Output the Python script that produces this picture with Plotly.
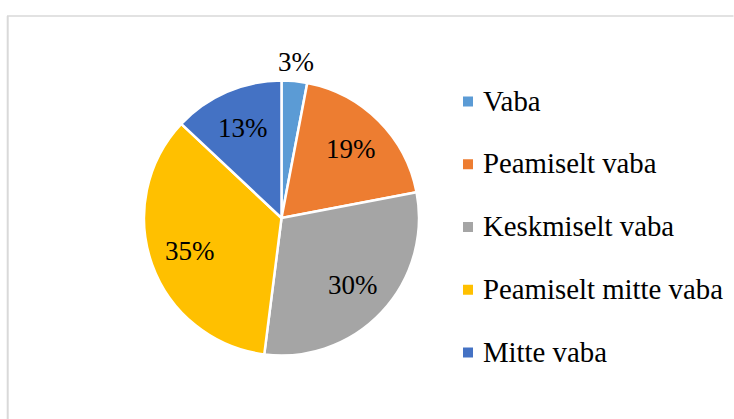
import math
import plotly.graph_objects as go

labels = ["Vaba", "Peamiselt vaba", "Keskmiselt vaba", "Peamiselt mitte vaba", "Mitte vaba"]
values = [3, 19, 30, 35, 13]
colors = ["#5B9BD5", "#ED7D31", "#A5A5A5", "#FFC000", "#4472C4"]

W, H = 734, 419
FONT = "Liberation Serif, Times New Roman, serif"
cx, cy, r = 281.5, 218.0, 137.5   # pie centre / radius in px (from top-left)

fig = go.Figure()
fig.add_trace(go.Pie(
    labels=labels, values=values, sort=False, direction="clockwise", rotation=0,
    marker=dict(colors=colors, line=dict(color="white", width=2.5)),
    textinfo="none", hoverinfo="label+percent", showlegend=False,
    domain=dict(x=[(cx - r) / W, (cx + r) / W], y=[(H - cy - r) / H, (H - cy + r) / H]),
))

annotations = []
shapes = []
total = sum(values)
cum = 0
for lab, v in zip(labels, values):
    theta = 2 * math.pi * (cum + v / 2) / total
    cum += v
    f = 1.14 if v / total < 0.05 else 0.71
    px = cx + f * r * math.sin(theta)
    py = cy - f * r * math.cos(theta)
    annotations.append(dict(x=px / W, y=1 - py / H, xref="paper", yref="paper",
                            text=f"{round(100 * v / total)}%", showarrow=False,
                            xanchor="center", yanchor="middle",
                            font=dict(family=FONT, size=27, color="black")))

# legend
leg_x0, leg_y0, leg_dy, sq = 463, 101.5, 62.75, 10
for i, (lab, col) in enumerate(zip(labels, colors)):
    yc = leg_y0 + i * leg_dy
    shapes.append(dict(type="rect", xref="paper", yref="paper",
                       x0=leg_x0 / W, x1=(leg_x0 + sq) / W,
                       y0=1 - (yc + sq / 2) / H, y1=1 - (yc - sq / 2) / H,
                       fillcolor=col, line=dict(width=0)))
    annotations.append(dict(x=481 / W, y=1 - (yc - 1) / H, xref="paper", yref="paper",
                            text=lab, showarrow=False, xanchor="left", yanchor="middle",
                            font=dict(family=FONT, size=28.8, color="black")))

# chart frame (top and left edges visible)
shapes.append(dict(type="line", xref="paper", yref="paper", x0=7 / W, x1=733.5 / W,
                   y0=1 - 16 / H, y1=1 - 16 / H, line=dict(color="#D9D9D9", width=1.5)))
shapes.append(dict(type="line", xref="paper", yref="paper", x0=7.7 / W, x1=7.7 / W,
                   y0=1 - 16 / H, y1=-0.1, line=dict(color="#D9D9D9", width=2)))

fig.update_layout(width=W, height=H, margin=dict(l=0, r=0, t=0, b=0),
                  paper_bgcolor="white", plot_bgcolor="white",
                  annotations=annotations, shapes=shapes,
                  font=dict(family=FONT, color="black"))

fig.write_html("out.html", config={"displayModeBar": False},
               post_script="document.body.style.margin='0';document.body.style.overflow='hidden';")
